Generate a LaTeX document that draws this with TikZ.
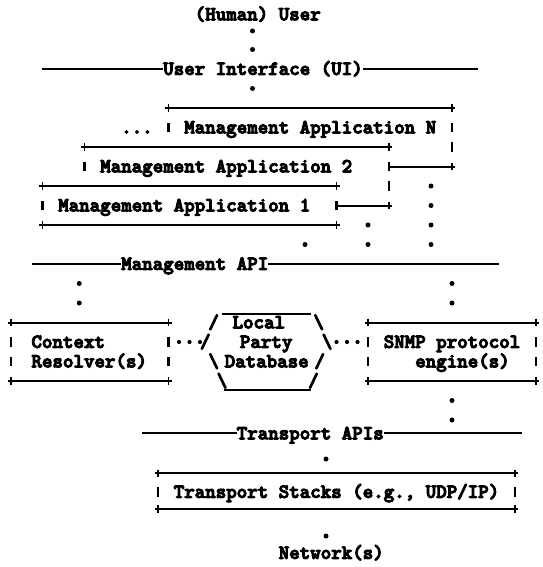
\documentclass[tikz,border=0pt]{standalone}
\usepackage{fontspec}
\newfontfamily\typewriter{lmmonolt10-bold.otf}[FakeBold=5]
% grid helpers: column = 10.5pt, row = 19.5pt
\newcommand\starat[2]{\fill (#1,#2) circle[radius=2.5pt];}
\newcommand\smallstar[2]{\fill (#1,#2) circle[radius=2.1pt];}
\newcommand\barat[2]{\draw[vbar] (#1,#2-0.24) -- (#1,#2+0.24);}
\newcommand\plusat[2]{\draw[vtick] (#1,#2-0.2) -- (#1,#2+0.2);}
\newcommand\edgerule[3]{\draw[rule] (#1-0.3,#3) -- (#2+0.3,#3); \plusat{#1}{#3}\plusat{#2}{#3}}
\begin{document}
\begin{tikzpicture}[x=10.5pt,y=-19.5pt,
  lbl/.style={font=\typewriter\fontsize{20pt}{20pt}\selectfont,
              anchor=base, inner sep=0pt, outer sep=0pt},
  rule/.style={line width=2pt},
  vbar/.style={line width=2.6pt},
  vtick/.style={line width=1.7pt}]
\useasboundingbox[fill=white] (-1.047619,-0.538462) rectangle (50.571429,28.538462);

% user and user interface
\node[lbl] (human) at (23.5,0.5) {(Human) User};
\starat{23}{1.05}\starat{23}{2}
\node[lbl] (ui) at (24,3.3) {User Interface (UI)};
\draw[rule] (2.95,3) -- (14.5,3);
\draw[rule] (33.5,3) -- (44.5,3);
\starat{23}{4}

% management application N
\edgerule{15}{42}{5}
\node[lbl] (more) at (12,6.3) {...};
\barat{15}{6}\barat{42}{6}
\node[lbl] (appN) at (28.5,6.3) {Management Application N};
\barat{42}{7}

% management application 2
\edgerule{7}{36}{7}
\barat{7}{8}\barat{36}{8}
\node[lbl] (app2) at (20.5,8.3) {Management Application 2};
\draw[rule] (36,8) -- (42.3,8); \plusat{42}{8}
\barat{36}{9}

% management application 1
\edgerule{3}{31}{9}
\barat{3}{10}\barat{31}{10}
\node[lbl] (app1) at (16.5,10.3) {Management Application 1};
\draw[rule] (31,10) -- (36.3,10); \plusat{36}{10}
\edgerule{3}{31}{11}

% paths down to the management API
\starat{40}{9}\starat{40}{10}\starat{40}{11}\starat{40}{12}
\starat{34}{11}\starat{34}{12}
\starat{28}{12}

% management API
\node[lbl] (mapi) at (17.5,13.3) {Management API};
\draw[rule] (2,13) -- (10.5,13);
\draw[rule] (24.5,13) -- (46.5,13);
\starat{6.5}{14}\starat{6.5}{15}
\starat{42}{14}\starat{42}{15}

% context resolver box
\edgerule{0}{15}{16}\edgerule{0}{15}{19}
\barat{0}{17}\barat{0}{18}\barat{15}{17}\barat{15}{18}
\node[lbl, anchor=base west] (ctx) at (1.95,17.3) {Context};
\node[lbl, anchor=base west] (res) at (1.95,18.3) {Resolver(s)};

% links to the party database
\smallstar{16}{17}\smallstar{17}{17}\smallstar{18}{17}
\smallstar{31}{17}\smallstar{32}{17}\smallstar{33}{17}

% local party database (hexagon)
\draw[rule] (20.1,15.56) -- (28.6,15.56);
\draw[rule] (20.3,19.46) -- (28.6,19.46);
\node[lbl] at (19.3,16.3) {/};
\node[lbl] at (29.3,16.3) {\textbackslash};
\node[lbl] at (18.5,17.3) {/};
\node[lbl] at (30.1,17.3) {\textbackslash};
\node[lbl] at (19.3,18.3) {\textbackslash};
\node[lbl] at (29.4,18.3) {/};
\node[lbl] at (20.1,19.3) {\textbackslash};
\node[lbl] at (28.8,19.3) {/};
\node[lbl] (local) at (23.6,16.3) {Local};
\node[lbl] (party) at (24.3,17.3) {Party};
\node[lbl] (db) at (24.35,18.3) {Database};

% SNMP protocol engine box
\edgerule{34}{50}{16}\edgerule{34}{50}{19}
\barat{34}{17}\barat{34}{18}\barat{50}{17}\barat{50}{18}
\node[lbl] (snmp) at (42,17.3) {SNMP protocol};
\node[lbl] (eng) at (43,18.3) {engine(s)};
\starat{42}{20}\starat{42}{21}

% transport
\node[lbl] (tapi) at (28.5,21.99) {Transport APIs};
\draw[rule] (12.5,21.69) -- (21.5,21.69);
\draw[rule] (35.5,21.69) -- (48.7,21.69);
\starat{30}{23}
\edgerule{14}{48}{23.74}\edgerule{14}{48}{25.56}
\barat{14}{24.69}\barat{48}{24.69}
\node[lbl] (tstack) at (31,24.99) {Transport Stacks (e.g., UDP/IP)};
\starat{30}{26.95}
\node[lbl] (net) at (30.5,28.12) {Network(s)};
\end{tikzpicture}
\end{document}
